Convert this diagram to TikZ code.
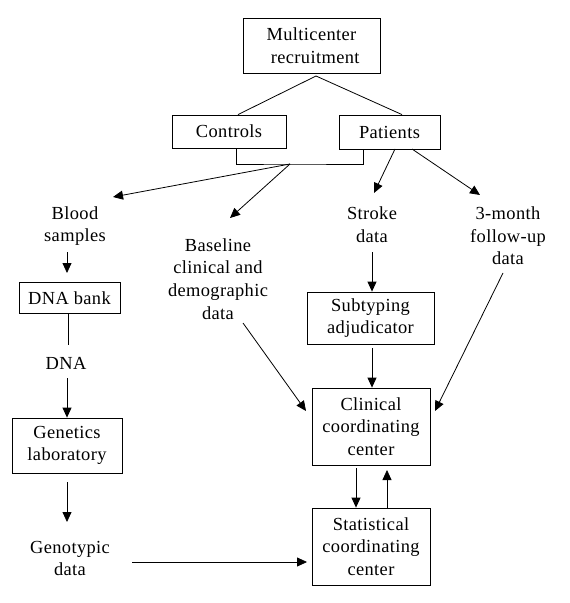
\documentclass[tikz,border=0pt]{standalone}
\usepackage{fontspec}
\setmainfont{Liberation Serif}[LetterSpace=2]
\usetikzlibrary{arrows.meta}
\begin{document}
\begin{tikzpicture}[x=1bp,y=-1bp,
  every node/.style={font=\fontsize{18.5}{22.7}\selectfont, align=center, inner sep=0pt},
  box/.style={draw, line width=0.8bp},
  lbl/.style={},
  conn/.style={line width=0.8bp},
  arr/.style={line width=0.8bp, -{Triangle[length=10bp,width=9bp]}}]
\useasboundingbox (0,0) rectangle (570,603);
\fill[white] (0,0) rectangle (570,603);
% boxes
\node[box, minimum width=137bp, minimum height=55bp] (mc) at (311.5,45.5) {Multicenter\\\hspace*{0.4em}recruitment};
\node[box, minimum width=114bp, minimum height=33bp] (controls) at (229,131.5) {Controls};
\node[box, minimum width=101bp, minimum height=34bp] (patients) at (389.5,132) {Patients};
\node[box, minimum width=101bp, minimum height=31bp] (dnabank) at (69.5,298) {DNA bank};
\node[box, minimum width=110bp, minimum height=55bp] (genetics) at (67,445.5) {Genetics\\laboratory};
\node[box, minimum width=127bp, minimum height=52bp] (subtyping) at (370.5,318) {Subtyping\\adjudicator};
\node[box, minimum width=118bp, minimum height=77bp] (clinical) at (371,426.5) {Clinical\\coordinating\\center};
\node[box, minimum width=118bp, minimum height=77bp] (statistical) at (371,546.5) {Statistical\\coordinating\\center};
% text labels
\node[lbl] (blood) at (75,226) {Blood\\samples};
\node[lbl] (baseline) at (218,279) {Baseline\\clinical and\\demographic\\data};
\node[lbl] (stroke) at (372,224.5) {Stroke\\data};
\node[lbl] (followup) at (508,236) {3-month\\follow-up\\data};
\node[lbl] (dna) at (66,363) {DNA};
\node[lbl] (genotypic) at (70,558.5) {Genotypic\\data};
% coordinates
\coordinate (apex) at (316,76);
\coordinate (br) at (290,164);
\coordinate (bloodtip) at (113,197);
\coordinate (basetip) at (230,218);
\coordinate (pat1) at (395,149);
\coordinate (pat2) at (412,149);
\coordinate (stroketip) at (374,193);
\coordinate (futip) at (480,195);
\coordinate (bloodbot) at (67,252);
\coordinate (dnabanktip) at (67,273);
\coordinate (dnatop) at (68,345);
\coordinate (dnabot) at (67,378);
\coordinate (genbot) at (67,482);
\coordinate (gentip) at (67,522);
\coordinate (gtstart) at (132,562);
\coordinate (gtend) at (307,562);
\coordinate (strokebot) at (372,252);
\coordinate (subbot) at (372,348);
\coordinate (basebot) at (243,323);
\coordinate (clintipL) at (306,411);
\coordinate (fubot) at (503,273);
\coordinate (clintipR) at (435,411);
\coordinate (clinbot) at (356,468);
\coordinate (clinuptip) at (387,470);
% connectors
\draw[conn] (apex) -- ([xshift=9bp]controls.north);
\draw[conn] (apex) -- ([xshift=12.5bp]patients.north);
\draw[conn] ([xshift=7bp]controls.south) |- (br) -| ([xshift=-26.5bp]patients.south);
\draw[arr] (br) -- (bloodtip);
\draw[arr] (br) -- (basetip);
\draw[arr] (pat1) -- (stroketip);
\draw[arr] (pat2) -- (futip);
\draw[arr] (bloodbot) -- (dnabanktip);
\draw[conn] (dnabank.south -| dnatop) -- (dnatop);
\draw[arr] (dnabot) -- (genetics.north);
\draw[arr] (genbot) -- (gentip);
\draw[arr] (gtstart) -- (gtend);
\draw[arr] (strokebot) -- (subtyping.north -| strokebot);
\draw[arr] (subbot) -- (clinical.north -| subbot);
\draw[arr] (basebot) -- (clintipL);
\draw[arr] (fubot) -- (clintipR);
\draw[arr] (clinbot) -- (statistical.north -| clinbot);
\draw[arr] (statistical.north -| clinuptip) -- (clinuptip);
\end{tikzpicture}
\end{document}
